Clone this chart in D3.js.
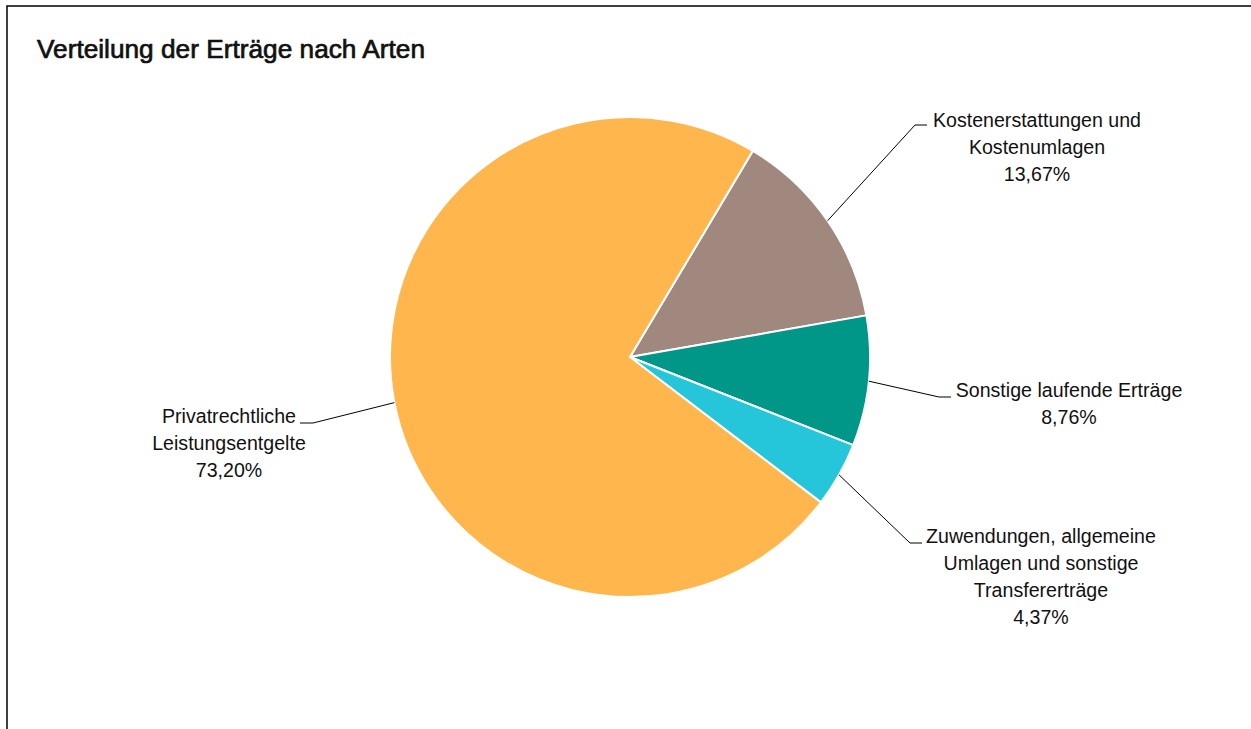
<!DOCTYPE html>
<html><head><meta charset="utf-8">
<script src="https://cdn.jsdelivr.net/npm/d3@7/dist/d3.min.js"></script>
<style>
html,body{margin:0;padding:0;background:#fff;}
svg{display:block;font-family:"Liberation Sans",Arial,sans-serif;}
</style></head>
<body>
<svg id="chart" width="1251" height="729"></svg>
<script>
// ---- data ----
const title = "Verteilung der Erträge nach Arten";
const categories = [
  ["Kostenerstattungen und", "Kostenumlagen"],
  ["Sonstige laufende Erträge"],
  ["Zuwendungen, allgemeine", "Umlagen und sonstige", "Transfererträge"],
  ["Privatrechtliche", "Leistungsentgelte"]
];
const values = [13.67, 8.76, 4.37, 73.20];
const valueLabels = ["13,67%", "8,76%", "4,37%", "73,20%"];
const colors = ["#A1887F", "#009688", "#26C6DA", "#FFB74D"];

// ---- layout (label anchors and leader elbows) ----
const labelLayout = [
  {x: 1037, y: 127, ex: 915, ey: 125, hx: 927},
  {x: 1069, y: 397, ex: 939, ey: 397, hx: 951},
  {x: 1041, y: 543, ex: 910, ey: 543, hx: 922},
  {x: 229,  y: 423, ex: 313, ey: 423, hx: 300}
];

const svg = d3.select("#chart");
const W = 1251, H = 729;

// frame
svg.append("rect").attr("x", 7).attr("y", 6).attr("width", W + 20).attr("height", H + 20)
  .attr("fill", "none").attr("stroke", "#000").attr("stroke-width", 1.5);

svg.append("text").attr("x", 37).attr("y", 57.5)
  .attr("font-size", 26).attr("fill", "#111")
  .attr("stroke", "#111").attr("stroke-width", 0.7)
  .attr("textLength", 388).attr("lengthAdjust", "spacingAndGlyphs")
  .text(title);

const cx = 630, cy = 357, R = 240;
const start = 30.8 * Math.PI / 180;
const pie = d3.pie().sort(null).value(d => d)
  .startAngle(start).endAngle(start + 2 * Math.PI);
const arcs = pie(values);
const arc = d3.arc().innerRadius(0).outerRadius(R);

const g = svg.append("g").attr("transform", `translate(${cx},${cy})`);
g.selectAll("path").data(arcs).join("path")
  .attr("d", arc)
  .attr("fill", (d, i) => colors[i])
  .attr("stroke", "#fff").attr("stroke-width", 2).attr("stroke-linejoin", "round");

// leader lines
arcs.forEach((a, i) => {
  const m = (a.startAngle + a.endAngle) / 2;
  const px = cx + R * Math.sin(m), py = cy - R * Math.cos(m);
  const L = labelLayout[i];
  svg.append("polyline")
    .attr("points", `${px},${py} ${L.ex},${L.ey} ${L.hx},${L.ey}`)
    .attr("fill", "none").attr("stroke", "#000").attr("stroke-width", 1);
});

// labels
categories.forEach((lines, i) => {
  const L = labelLayout[i];
  const all = lines.concat([valueLabels[i]]);
  const t = svg.append("text").attr("text-anchor", "middle")
    .attr("font-size", 19.6).attr("fill", "#111");
  all.forEach((s, k) => {
    t.append("tspan").attr("x", L.x).attr("y", L.y + k * 27).text(s);
  });
});
</script>
</body></html>
